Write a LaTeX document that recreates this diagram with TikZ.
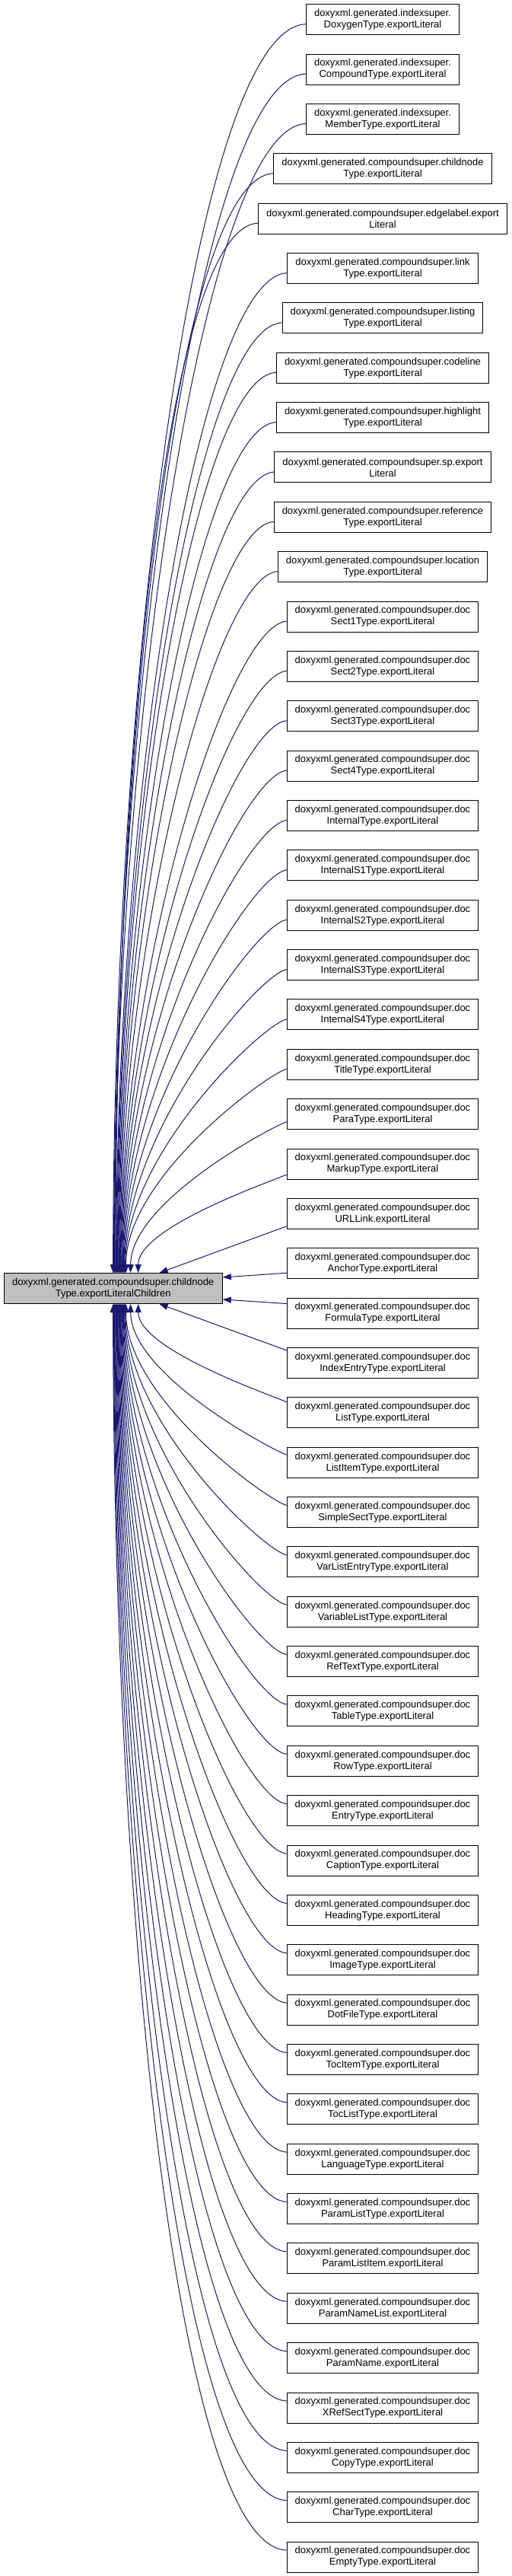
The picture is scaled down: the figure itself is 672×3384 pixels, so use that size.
\documentclass[tikz,border=0pt]{standalone}
\usepackage{fontspec}
\setmainfont{Liberation Sans}
\usetikzlibrary{arrows.meta}
\definecolor{edgeblue}{RGB}{25,25,112}
\definecolor{mainfill}{RGB}{191,191,191}
\begin{document}
\begin{tikzpicture}[x=1pt,y=-1pt,
  box/.style={draw=black,line width=1pt,align=center,inner xsep=10.5pt,inner ysep=0pt,minimum height=40pt,font=\fontsize{13}{15}\selectfont},
  edge/.style={draw=edgeblue,line width=1pt,-{Triangle[length=11pt,width=8pt]}}]
\useasboundingbox (0,0) rectangle (672,3384);
\node[box,fill=mainfill,minimum width=287.3pt] (main) at (148.65,1692.5) {doxyxml.generated.compoundsuper.childnode\\Type.exportLiteralChildren};
\foreach \k/\la/\lb in {
1/doxyxml.generated.indexsuper./DoxygenType.exportLiteral,
2/doxyxml.generated.indexsuper./CompoundType.exportLiteral,
3/doxyxml.generated.indexsuper./MemberType.exportLiteral,
4/doxyxml.generated.compoundsuper.childnode/Type.exportLiteral,
5/doxyxml.generated.compoundsuper.edgelabel.export/Literal,
6/doxyxml.generated.compoundsuper.link/Type.exportLiteral,
7/doxyxml.generated.compoundsuper.listing/Type.exportLiteral,
8/doxyxml.generated.compoundsuper.codeline/Type.exportLiteral,
9/doxyxml.generated.compoundsuper.highlight/Type.exportLiteral,
10/doxyxml.generated.compoundsuper.sp.export/Literal,
11/doxyxml.generated.compoundsuper.reference/Type.exportLiteral,
12/doxyxml.generated.compoundsuper.location/Type.exportLiteral,
13/doxyxml.generated.compoundsuper.doc/Sect1Type.exportLiteral,
14/doxyxml.generated.compoundsuper.doc/Sect2Type.exportLiteral,
15/doxyxml.generated.compoundsuper.doc/Sect3Type.exportLiteral,
16/doxyxml.generated.compoundsuper.doc/Sect4Type.exportLiteral,
17/doxyxml.generated.compoundsuper.doc/InternalType.exportLiteral,
18/doxyxml.generated.compoundsuper.doc/InternalS1Type.exportLiteral,
19/doxyxml.generated.compoundsuper.doc/InternalS2Type.exportLiteral,
20/doxyxml.generated.compoundsuper.doc/InternalS3Type.exportLiteral,
21/doxyxml.generated.compoundsuper.doc/InternalS4Type.exportLiteral,
22/doxyxml.generated.compoundsuper.doc/TitleType.exportLiteral,
23/doxyxml.generated.compoundsuper.doc/ParaType.exportLiteral,
24/doxyxml.generated.compoundsuper.doc/MarkupType.exportLiteral,
25/doxyxml.generated.compoundsuper.doc/URLLink.exportLiteral,
26/doxyxml.generated.compoundsuper.doc/AnchorType.exportLiteral,
27/doxyxml.generated.compoundsuper.doc/FormulaType.exportLiteral,
28/doxyxml.generated.compoundsuper.doc/IndexEntryType.exportLiteral,
29/doxyxml.generated.compoundsuper.doc/ListType.exportLiteral,
30/doxyxml.generated.compoundsuper.doc/ListItemType.exportLiteral,
31/doxyxml.generated.compoundsuper.doc/SimpleSectType.exportLiteral,
32/doxyxml.generated.compoundsuper.doc/VarListEntryType.exportLiteral,
33/doxyxml.generated.compoundsuper.doc/VariableListType.exportLiteral,
34/doxyxml.generated.compoundsuper.doc/RefTextType.exportLiteral,
35/doxyxml.generated.compoundsuper.doc/TableType.exportLiteral,
36/doxyxml.generated.compoundsuper.doc/RowType.exportLiteral,
37/doxyxml.generated.compoundsuper.doc/EntryType.exportLiteral,
38/doxyxml.generated.compoundsuper.doc/CaptionType.exportLiteral,
39/doxyxml.generated.compoundsuper.doc/HeadingType.exportLiteral,
40/doxyxml.generated.compoundsuper.doc/ImageType.exportLiteral,
41/doxyxml.generated.compoundsuper.doc/DotFileType.exportLiteral,
42/doxyxml.generated.compoundsuper.doc/TocItemType.exportLiteral,
43/doxyxml.generated.compoundsuper.doc/TocListType.exportLiteral,
44/doxyxml.generated.compoundsuper.doc/LanguageType.exportLiteral,
45/doxyxml.generated.compoundsuper.doc/ParamListType.exportLiteral,
46/doxyxml.generated.compoundsuper.doc/ParamListItem.exportLiteral,
47/doxyxml.generated.compoundsuper.doc/ParamNameList.exportLiteral,
48/doxyxml.generated.compoundsuper.doc/ParamName.exportLiteral,
49/doxyxml.generated.compoundsuper.doc/XRefSectType.exportLiteral,
50/doxyxml.generated.compoundsuper.doc/CopyType.exportLiteral,
51/doxyxml.generated.compoundsuper.doc/CharType.exportLiteral,
52/doxyxml.generated.compoundsuper.doc/EmptyType.exportLiteral} {
  \pgfmathsetmacro\yk{25.7+(\k-1)*65.36}
  \node[box,fill=white] (r\k) at (503,\yk) {\la\\\lb};
}
% upper edges
\foreach \k in {1,...,24} {
  \pgfmathsetmacro\d{26-\k}
  \pgfmathsetmacro\xs{(\d==2 ? 33 : (\d==3 ? 23 : (25-\d)*0.8))}
  \pgfmathsetmacro\ys{(\d==2 ? 14 : (\d==3 ? 10 : 6))}
  \pgfmathsetmacro\D{1672.7-(25.7+(\k-1)*65.36+\ys)}
  \pgfmathsetmacro\ca{0.09*\D}
  \pgfmathsetmacro\cb{0.47*\D}
  \draw[edge] ([yshift=-\ys pt]r\k.west) .. controls +(-\ca,6) and +(0,-\cb) .. ([xshift=\xs pt]main.north);
}
% lower edges
\foreach \k in {29,...,52} {
  \pgfmathsetmacro\d{\k-27}
  \pgfmathsetmacro\xs{(\d==2 ? 33 : (\d==3 ? 23 : (25-\d)*0.8))}
  \pgfmathsetmacro\ys{(\d==2 ? 14 : (\d==3 ? 10 : 9))}
  \pgfmathsetmacro\D{(25.7+(\k-1)*65.36-\ys)-1712.3}
  \pgfmathsetmacro\ca{0.09*\D}
  \pgfmathsetmacro\cb{0.47*\D}
  \draw[edge] ([yshift=\ys pt]r\k.west) .. controls +(-\ca,-6) and +(0,\cb) .. ([xshift=\xs pt]main.south);
}
\draw[edge] ([yshift=4pt]r25.south west) -- ([xshift=61pt]main.north);
\draw[edge] ([yshift=-4pt]r28.north west) -- ([xshift=61pt]main.south);
\draw[edge] ([yshift=8pt]r26.south west) -- ([yshift=14.5pt]main.east);
\draw[edge] ([yshift=-8pt]r27.north west) -- ([yshift=-14.5pt]main.east);
\end{tikzpicture}
\end{document}
